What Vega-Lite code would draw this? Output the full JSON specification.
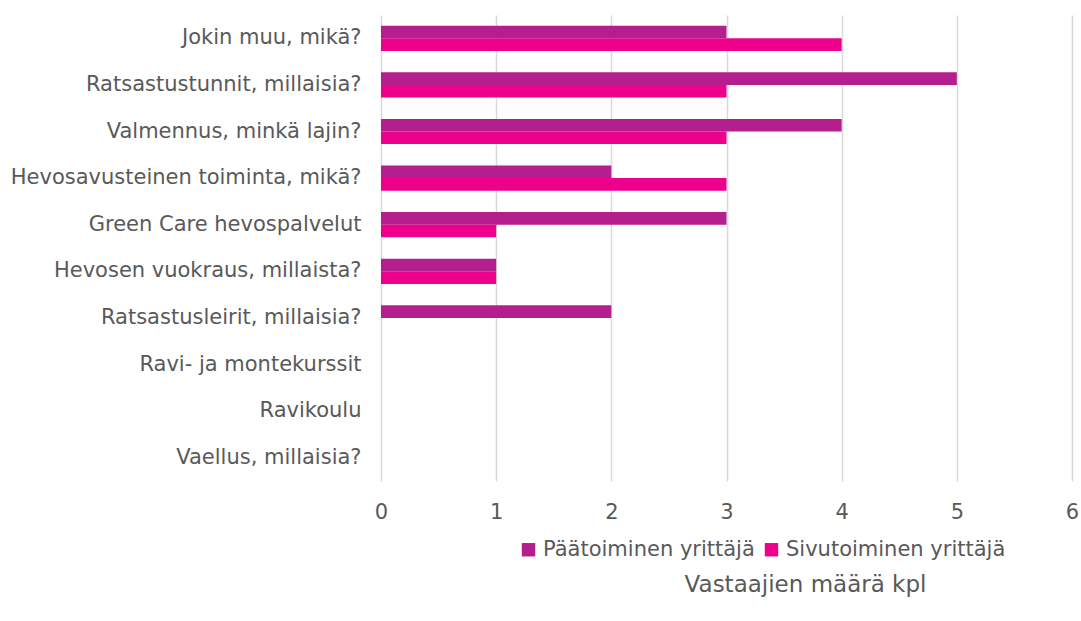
{
  "$schema": "https://vega.github.io/schema/vega-lite/v6.json",
  "width": 691,
  "height": 466,
  "autosize": {"type": "none"},
  "padding": {"left": 381, "top": 15, "right": 9, "bottom": 140},
  "background": "white",
  "config": {
    "font": "DejaVu Sans",
    "view": {"stroke": null}
  },
  "data": {
    "values": [
      {"kategoria": "Jokin muu, mikä?", "sarja": "Päätoiminen yrittäjä", "maara": 3},
      {"kategoria": "Jokin muu, mikä?", "sarja": "Sivutoiminen yrittäjä", "maara": 4},
      {"kategoria": "Ratsastustunnit, millaisia?", "sarja": "Päätoiminen yrittäjä", "maara": 5},
      {"kategoria": "Ratsastustunnit, millaisia?", "sarja": "Sivutoiminen yrittäjä", "maara": 3},
      {"kategoria": "Valmennus, minkä lajin?", "sarja": "Päätoiminen yrittäjä", "maara": 4},
      {"kategoria": "Valmennus, minkä lajin?", "sarja": "Sivutoiminen yrittäjä", "maara": 3},
      {"kategoria": "Hevosavusteinen toiminta, mikä?", "sarja": "Päätoiminen yrittäjä", "maara": 2},
      {"kategoria": "Hevosavusteinen toiminta, mikä?", "sarja": "Sivutoiminen yrittäjä", "maara": 3},
      {"kategoria": "Green Care hevospalvelut", "sarja": "Päätoiminen yrittäjä", "maara": 3},
      {"kategoria": "Green Care hevospalvelut", "sarja": "Sivutoiminen yrittäjä", "maara": 1},
      {"kategoria": "Hevosen vuokraus, millaista?", "sarja": "Päätoiminen yrittäjä", "maara": 1},
      {"kategoria": "Hevosen vuokraus, millaista?", "sarja": "Sivutoiminen yrittäjä", "maara": 1},
      {"kategoria": "Ratsastusleirit, millaisia?", "sarja": "Päätoiminen yrittäjä", "maara": 2},
      {"kategoria": "Ratsastusleirit, millaisia?", "sarja": "Sivutoiminen yrittäjä", "maara": 0},
      {"kategoria": "Ravi- ja montekurssit", "sarja": "Päätoiminen yrittäjä", "maara": 0},
      {"kategoria": "Ravi- ja montekurssit", "sarja": "Sivutoiminen yrittäjä", "maara": 0},
      {"kategoria": "Ravikoulu", "sarja": "Päätoiminen yrittäjä", "maara": 0},
      {"kategoria": "Ravikoulu", "sarja": "Sivutoiminen yrittäjä", "maara": 0},
      {"kategoria": "Vaellus, millaisia?", "sarja": "Päätoiminen yrittäjä", "maara": 0},
      {"kategoria": "Vaellus, millaisia?", "sarja": "Sivutoiminen yrittäjä", "maara": 0}
    ]
  },
  "mark": {"type": "bar", "stroke": null},
  "encoding": {
    "y": {
      "field": "kategoria",
      "type": "nominal",
      "sort": null,
      "scale": {"paddingInner": 0.46, "paddingOuter": 0.23},
      "axis": {
        "title": null,
        "ticks": false,
        "domain": false,
        "grid": false,
        "labelFontSize": 21,
        "labelColor": "#595959",
        "labelPadding": 20,
        "labelLimit": 400
      }
    },
    "yOffset": {
      "field": "sarja",
      "type": "nominal",
      "sort": ["Päätoiminen yrittäjä", "Sivutoiminen yrittäjä"],
      "scale": {"paddingInner": 0, "paddingOuter": 0}
    },
    "x": {
      "field": "maara",
      "type": "quantitative",
      "scale": {"domain": [0, 6], "nice": false},
      "axis": {
        "values": [0, 1, 2, 3, 4, 5, 6],
        "format": "d",
        "grid": true,
        "gridColor": "#D9D9D9",
        "gridWidth": 1.5,
        "domain": false,
        "ticks": false,
        "labelFlush": false,
        "labelFontSize": 21,
        "labelColor": "#595959",
        "labelPadding": 20,
        "title": "Vastaajien määrä kpl",
        "titleFontSize": 23,
        "titleFontWeight": "normal",
        "titleColor": "#595959",
        "titleX": 424,
        "titleY": 110,
        "titleBaseline": "alphabetic",
        "titleAnchor": "middle",
        "titleAlign": "center"
      }
    },
    "color": {
      "field": "sarja",
      "type": "nominal",
      "sort": ["Päätoiminen yrittäjä", "Sivutoiminen yrittäjä"],
      "scale": {"range": ["#B41E8E", "#EC008C"]},
      "legend": {
        "title": null,
        "orient": "none",
        "direction": "horizontal",
        "legendX": 137,
        "legendY": 524,
        "symbolType": "square",
        "symbolSize": 180,
        "symbolStrokeWidth": 0,
        "symbolOpacity": 1,
        "labelFontSize": 21,
        "labelColor": "#595959",
        "labelOffset": 4,
        "labelLimit": 400,
        "columnPadding": 6
      }
    }
  }
}
